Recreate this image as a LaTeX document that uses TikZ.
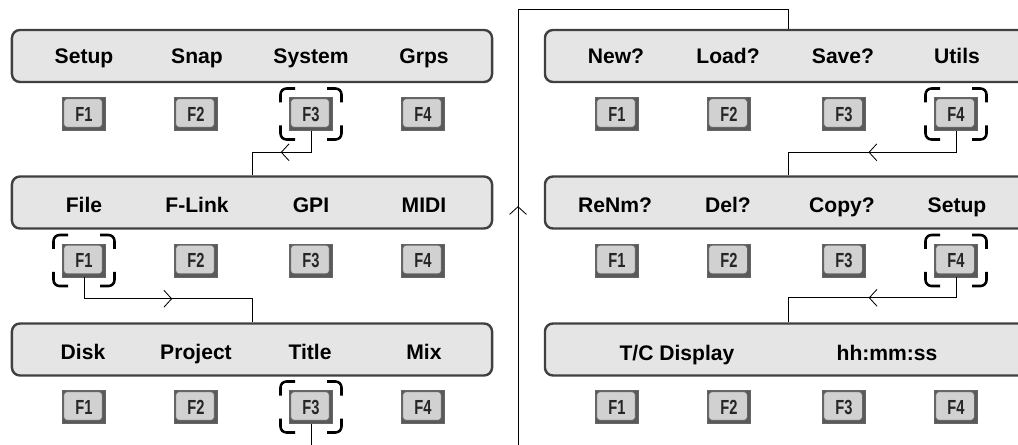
\documentclass[tikz,border=0pt]{standalone}
\usepackage{fontspec}
\setmainfont{Liberation Sans}
\newfontfamily\keyfont[FakeStretch=0.72]{Liberation Sans Bold}
\usetikzlibrary{arrows.meta,calc,decorations.markings}

\begin{document}
\begin{tikzpicture}[
    x=0.025cm, y=-0.025cm,
    panel/.style={draw=black!75, line width=1.7pt, fill=black!10, rounded corners=0.2cm, minimum width=12cm, minimum height=1.3cm, inner sep=0pt},
    rpanel/.style={panel, minimum width=12.15cm},
    lbl/.style={font=\fontsize{15}{16}\selectfont\bfseries, inner sep=0pt, anchor=base},
    fkey/.style={draw=black!60, line width=0.4pt, fill=black!65, minimum width=1.075cm, minimum height=0.825cm, inner sep=0pt,
        font=\keyfont\fontsize{14.5}{14.5}\selectfont, text=black!85,
        path picture={\draw[fill=black!18, line width=0.6pt, rounded corners=2.5pt]
            ([shift={(0.8pt,-0.8pt)}]path picture bounding box.north west) rectangle
            ([shift={(-2.2pt,2.2pt)}]path picture bounding box.south east);}},
    selbr/.style={line width=1.8pt, rounded corners=0.15cm},
    conn/.style={line width=0.6pt},
    midarr/.style={postaction={decorate}, decoration={markings,
        mark=at position #1 with {\arrow{Straight Barb[length=5.5pt, width=12pt, line width=0.6pt]}}}}
]
\useasboundingbox (0,0) rectangle (1018,445);
\clip (0,0) rectangle (1018,445);

% --- Left column: panels ---
\node[panel] (p1) at (252, 56)    {};
\node[panel] (p2) at (252, 202.5) {};
\node[panel] (p3) at (252, 349.5) {};

% --- Right column: panels (run off the right edge) ---
\node[rpanel] (p4) at (788, 56)    {};
\node[rpanel] (p5) at (788, 202.5) {};
\node[rpanel] (p6) at (788, 349.5) {};

% --- Soft key labels (placed on their baselines) ---
\node[lbl] (lsetup)   at (84, 63.5)  {Setup};
\node[lbl] (lsnap)    at (197, 63.5) {Snap};
\node[lbl] (lsystem)  at (311, 63.5) {System};
\node[lbl] (lgrps)    at (424, 63.5) {Grps};

\node[lbl] (lfile)    at (84, 212.5)  {File};
\node[lbl] (lflink)   at (197, 212.5) {F-Link};
\node[lbl] (lgpi)     at (311, 212.5) {GPI};
\node[lbl] (lmidi)    at (424, 212.5) {MIDI};

\node[lbl] (ldisk)    at (83, 359.5)  {Disk};
\node[lbl] (lproject) at (196, 359.5) {Project};
\node[lbl] (ltitle)   at (310, 359.5) {Title};
\node[lbl] (lmix)     at (424, 359.5) {Mix};

\node[lbl] (lnew)     at (616, 63.5) {New?};
\node[lbl] (lload)    at (728, 63.5) {Load?};
\node[lbl] (lsave)    at (843, 63.5) {Save?};
\node[lbl] (lutils)   at (957, 63.5) {Utils};

\node[lbl] (lrenm)    at (615, 212.5) {ReNm?};
\node[lbl] (ldel)     at (728, 212.5) {Del?};
\node[lbl] (lcopy)    at (842, 212.5) {Copy?};
\node[lbl] (lsetupb)  at (957, 212.5) {Setup};

\node[lbl] (ltc)      at (677, 360) {T/C Display};
\node[lbl] (lhms)     at (887, 360) {hh:mm:ss};

% --- Function keys ---
\node[fkey] (k11) at (84, 114)  {F1};
\node[fkey] (k12) at (196, 114) {F2};
\node[fkey] (k13) at (311, 114) {F3};
\node[fkey] (k14) at (423, 114) {F4};

\node[fkey] (k21) at (84, 260.5)  {F1};
\node[fkey] (k22) at (196, 260.5) {F2};
\node[fkey] (k23) at (311, 260.5) {F3};
\node[fkey] (k24) at (423, 260.5) {F4};

\node[fkey] (k31) at (84, 407)  {F1};
\node[fkey] (k32) at (196, 407) {F2};
\node[fkey] (k33) at (311, 407) {F3};
\node[fkey] (k34) at (423, 407) {F4};

\node[fkey] (k41) at (617, 114) {F1};
\node[fkey] (k42) at (729, 114) {F2};
\node[fkey] (k43) at (844, 114) {F3};
\node[fkey] (k44) at (956, 114) {F4};

\node[fkey] (k51) at (617, 260.5) {F1};
\node[fkey] (k52) at (729, 260.5) {F2};
\node[fkey] (k53) at (844, 260.5) {F3};
\node[fkey] (k54) at (956, 260.5) {F4};

\node[fkey] (k61) at (617, 407) {F1};
\node[fkey] (k62) at (729, 407) {F2};
\node[fkey] (k63) at (844, 407) {F3};
\node[fkey] (k64) at (956, 407) {F4};

% --- Brackets round the pressed keys ---
\foreach \k in {k13,k21,k33,k44,k54}
  \foreach \sx/\sy in {1/1,1/-1,-1/1,-1/-1}
    \draw[selbr] ($(\k)+(\sx*16,\sy*25.5)$) -- ++(\sx*14.5,0) -- ++(0,-\sy*14);

% --- Connectors ---
\draw[conn, midarr=0.5]   (k13.south) -- ++(0,21.5) -| (p2.north);
\draw[conn, midarr=0.515] (k21.south) -- ++(0,21.5) -| (p3.north);
\draw[conn, midarr=0.513] (k44.south) -- ++(0,21.5) -| (p5.north);
\draw[conn, midarr=0.506] (k54.south) -- ++(0,20.5) -| (p6.north);

% Title -> File menu, routed below and back up the middle
\coordinate (loopA) at (518, 470);
\coordinate (loopB) at (518, 9);
\draw[conn, midarr=0.515] (k33.south) |- (loopA) -- (loopB) -| (p4.north);
\end{tikzpicture}
\end{document}
